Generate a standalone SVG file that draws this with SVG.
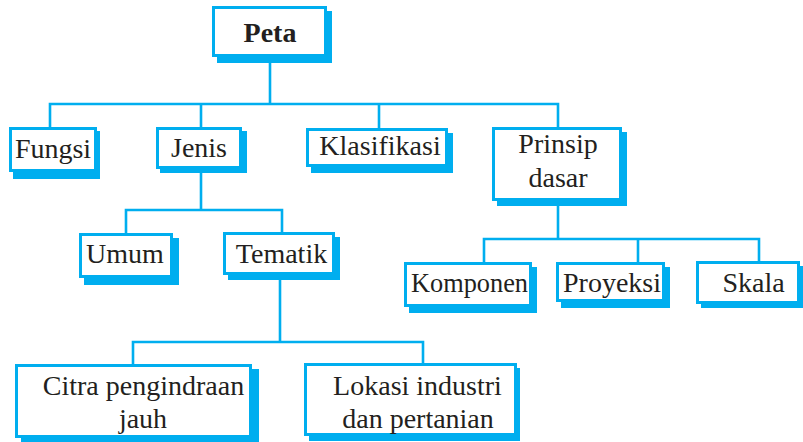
<svg xmlns="http://www.w3.org/2000/svg" width="803" height="442" viewBox="0 0 803 442">
<style>
.sh{fill:#00AEEF;stroke:none}
.bx{fill:#fff;stroke:#00AEEF;stroke-width:3}
.t{font-family:'Liberation Serif',Tinos,'Times New Roman','DejaVu Serif',serif;font-size:28px;fill:#231F20;text-anchor:middle}
.b{font-weight:bold}
.c{fill:none;stroke:#00AEEF;stroke-width:2.6;stroke-linejoin:miter}
</style>
<rect width="803" height="442" fill="#fff"/>
<g id="connectors">
<path class="c" d="M270 57 V104"/>
<path class="c" d="M50 127 V104 H558 V127"/>
<path class="c" d="M201 104 V127"/>
<path class="c" d="M379 104 V128"/>
<path class="c" d="M201 169 V210"/>
<path class="c" d="M126 233 V210 H282 V232"/>
<path class="c" d="M280 275 V342"/>
<path class="c" d="M133 364 V342 H423 V363"/>
<path class="c" d="M558 201 V239"/>
<path class="c" d="M484 262 V239 H759 V261"/>
<path class="c" d="M638 239 V262"/>
</g>
<g id="peta">
<rect class="sh" x="217" y="11" width="115" height="52"/>
<rect class="bx" x="213.5" y="7.5" width="112" height="48"/>
<text class="t b" x="270" y="42">Peta</text>
</g>
<g id="fungsi">
<rect class="sh" x="13" y="131" width="87" height="48"/>
<rect class="bx" x="10.5" y="128.5" width="85" height="42"/>
<text class="t" x="53" y="158">Fungsi</text>
</g>
<g id="jenis">
<rect class="sh" x="160" y="131" width="87" height="42"/>
<rect class="bx" x="157.5" y="128.5" width="83" height="39"/>
<text class="t" x="199" y="157">Jenis</text>
</g>
<g id="klasifikasi">
<rect class="sh" x="311" y="133" width="142" height="40"/>
<rect class="bx" x="307.5" y="129.5" width="139" height="36"/>
<text class="t" x="380" y="155">Klasifikasi</text>
</g>
<g id="prinsip">
<rect class="sh" x="497" y="132" width="130" height="74"/>
<rect class="bx" x="493.5" y="128.5" width="127" height="71"/>
<text class="t" x="558" y="153">Prinsip</text>
<text class="t" x="558" y="187">dasar</text>
</g>
<g id="umum">
<rect class="sh" x="84" y="238" width="95" height="47"/>
<rect class="bx" x="80.5" y="234.5" width="91" height="42"/>
<text class="t" x="125" y="263">Umum</text>
</g>
<g id="tematik">
<rect class="sh" x="228" y="237" width="112" height="43"/>
<rect class="bx" x="224.5" y="233.5" width="109" height="40"/>
<text class="t" x="281.5" y="263">Tematik</text>
</g>
<g id="komponen">
<rect class="sh" x="409" y="267" width="128" height="46"/>
<rect class="bx" x="405.5" y="263.5" width="125" height="42"/>
<text class="t" x="469.5" y="292" textLength="117" lengthAdjust="spacingAndGlyphs">Komponen</text>
</g>
<g id="proyeksi">
<rect class="sh" x="561" y="267" width="109" height="41"/>
<rect class="bx" x="557.5" y="263.5" width="106" height="37"/>
<text class="t" x="612" y="292">Proyeksi</text>
</g>
<g id="skala">
<rect class="sh" x="701" y="266" width="109" height="42"/>
<rect class="bx" x="697.5" y="262.5" width="101" height="40"/>
<text class="t" x="753.5" y="292">Skala</text>
</g>
<g id="citra">
<rect class="sh" x="21" y="369" width="238" height="74"/>
<rect class="bx" x="16.5" y="365.5" width="234" height="71"/>
<text class="t" x="143.5" y="395">Citra pengindraan</text>
<text class="t" x="143" y="428">jauh</text>
</g>
<g id="lokasi">
<rect class="sh" x="309" y="368" width="211" height="73"/>
<rect class="bx" x="305.5" y="364.5" width="210" height="70"/>
<text class="t" x="417.5" y="395">Lokasi industri</text>
<text class="t" x="418" y="428">dan pertanian</text>
</g>
</svg>
